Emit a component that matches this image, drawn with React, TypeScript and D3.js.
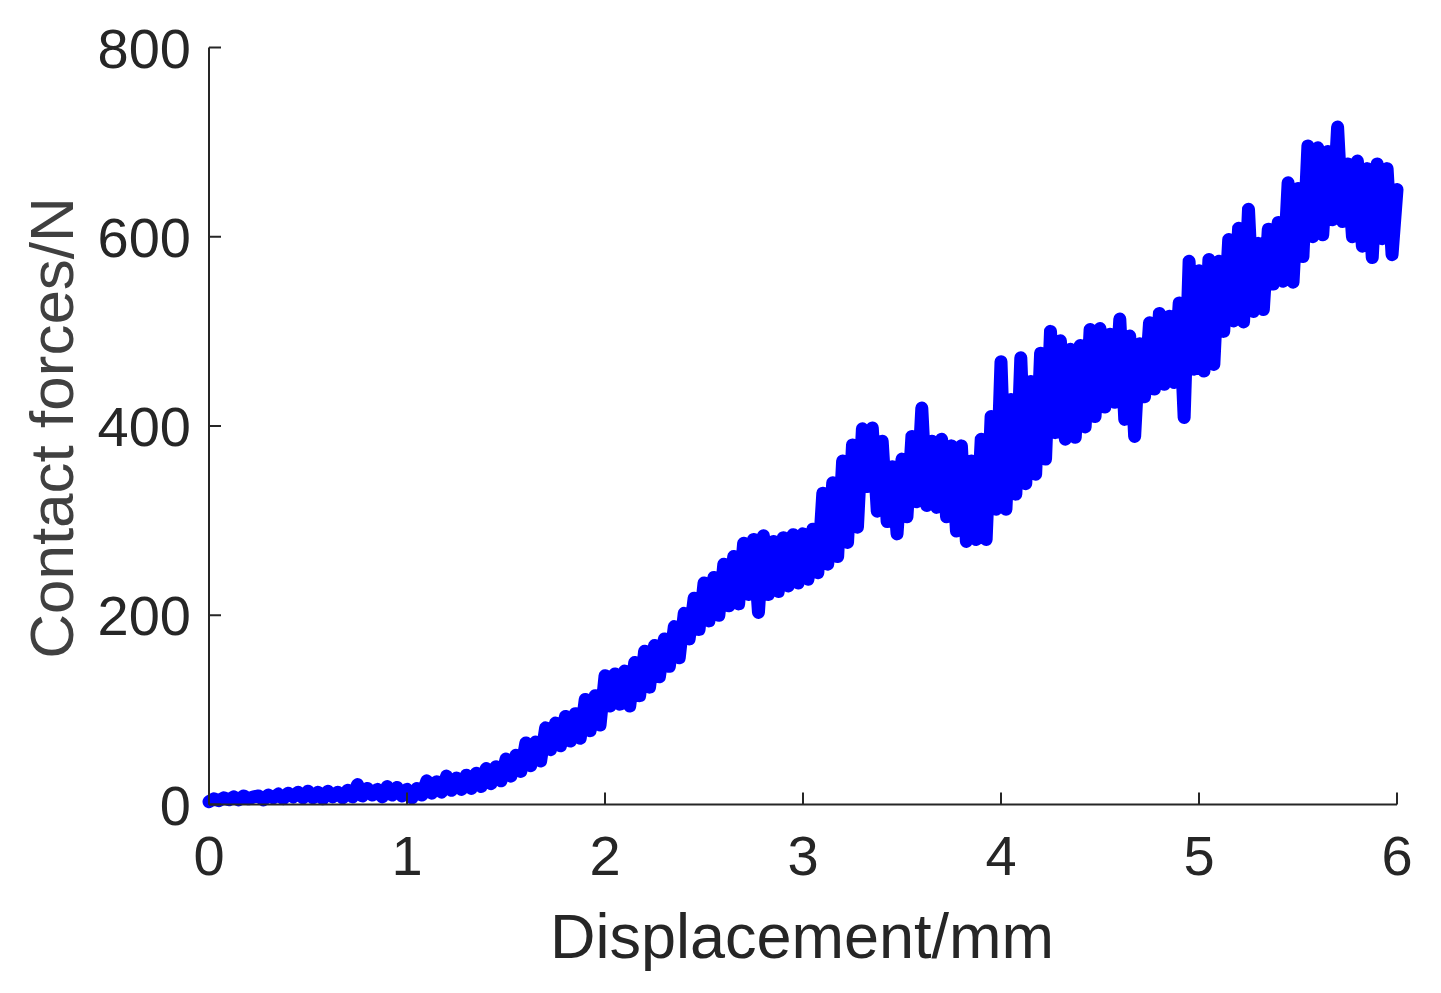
import React from "react";
import * as d3 from "d3";

// ---- data ----
const displacementStart = 0;
const displacementStep = 0.025; // mm between samples
const forceValues: number[] = [
  3, 6, 4, 7, 5, 8, 5, 9, 6, 8,
  9, 5, 10, 7, 11, 6, 12, 8, 13, 7,
  14, 7, 13, 6, 14, 8, 13, 7, 15, 8,
  21, 9, 17, 10, 16, 8, 19, 10, 18, 9,
  16, 7, 17, 10, 25, 12, 24, 13, 30, 15,
  28, 16, 31, 17, 33, 19, 38, 22, 40, 25,
  48, 30, 52, 35, 65, 41, 66, 46, 81, 58,
  86, 62, 93, 67, 96, 70, 111, 78, 115, 84,
  136, 104, 138, 106, 141, 104, 150, 115, 162, 124,
  168, 135, 175, 146, 188, 155, 202, 175, 218, 185,
  234, 194, 240, 200, 254, 210, 262, 212, 276, 222,
  280, 203, 284, 222, 278, 225, 282, 231, 285, 234,
  286, 238, 291, 245, 329, 254, 340, 262, 363, 277,
  380, 293, 397, 336, 398, 310, 384, 299, 357, 286,
  365, 304, 389, 320, 419, 316, 384, 314, 386, 304,
  379, 289, 379, 278, 363, 280, 386, 280, 410, 312,
  468, 312, 428, 328, 472, 339, 447, 349, 477, 365,
  500, 393, 490, 386, 481, 388, 485, 399, 502, 410,
  503, 420, 497, 425, 513, 407, 495, 389, 487, 431,
  509, 439, 519, 444, 516, 446, 530, 409, 574, 460,
  564, 458, 576, 465, 574, 500, 597, 511, 609, 510,
  629, 521, 593, 523, 608, 550, 615, 553, 657, 552,
  651, 579, 696, 600, 694, 602, 690, 618, 716, 616,
  677, 600, 680, 590, 672, 578, 677, 598, 672, 581,
  650,
];
const xTicks = [0, 1, 2, 3, 4, 5, 6];
const yTicks = [0, 200, 400, 600, 800];
const xLabel = "Displacement/mm";
const yLabel = "Contact forces/N";

export default function App() {
  const W = 1441;
  const H = 993;
  const left = 209;
  const right = 1397;
  const top = 47.5;
  const bottom = 804.5;

  const x = d3.scaleLinear().domain([0, 6]).range([left, right]);
  const y = d3.scaleLinear().domain([0, 800]).range([bottom, top]);

  const pts: [number, number][] = forceValues.map((v, i) => [
    displacementStart + i * displacementStep,
    v,
  ]);
  const line = d3
    .line<[number, number]>()
    .x((d) => x(d[0]))
    .y((d) => y(d[1]));

  const axisColor = "#262626";
  const font = "'Liberation Sans', Arial, Helvetica, sans-serif";
  const tickLen = 12;

  return (
    <svg
      width={W}
      height={H}
      style={{ position: "absolute", left: 0, top: 0, background: "#fff" }}
    >
      <path
        d={line(pts) || ""}
        fill="none"
        stroke="#0000ff"
        strokeWidth={13}
        strokeLinejoin="round"
        strokeLinecap="round"
      />
      {/* axes */}
      <line x1={left} x2={left} y1={top} y2={bottom} stroke={axisColor} strokeWidth={2} />
      <line x1={left} x2={right} y1={bottom} y2={bottom} stroke={axisColor} strokeWidth={2} />
      {xTicks.map((t) => (
        <g key={"x" + t}>
          <line
            x1={x(t)}
            x2={x(t)}
            y1={bottom}
            y2={bottom - tickLen}
            stroke={axisColor}
            strokeWidth={2}
          />
          <text
            x={x(t)}
            y={875}
            textAnchor="middle"
            fontFamily={font}
            fontSize={56}
            fill={axisColor}
          >
            {t}
          </text>
        </g>
      ))}
      {yTicks.map((t) => (
        <g key={"y" + t}>
          <line
            x1={left}
            x2={left + tickLen}
            y1={y(t)}
            y2={y(t)}
            stroke={axisColor}
            strokeWidth={2}
          />
          <text
            x={191}
            y={y(t)}
            dy="0.36em"
            textAnchor="end"
            fontFamily={font}
            fontSize={56}
            fill={axisColor}
          >
            {t}
          </text>
        </g>
      ))}
      <text
        x={802}
        y={958}
        textAnchor="middle"
        fontFamily={font}
        fontSize={63}
        fill={axisColor}
      >
        {xLabel}
      </text>
      <text
        transform={`translate(73, ${428}) rotate(-90)`}
        textAnchor="middle"
        fontFamily={font}
        fontSize={62}
        fill="#404040"
      >
        {yLabel}
      </text>
    </svg>
  );
}
